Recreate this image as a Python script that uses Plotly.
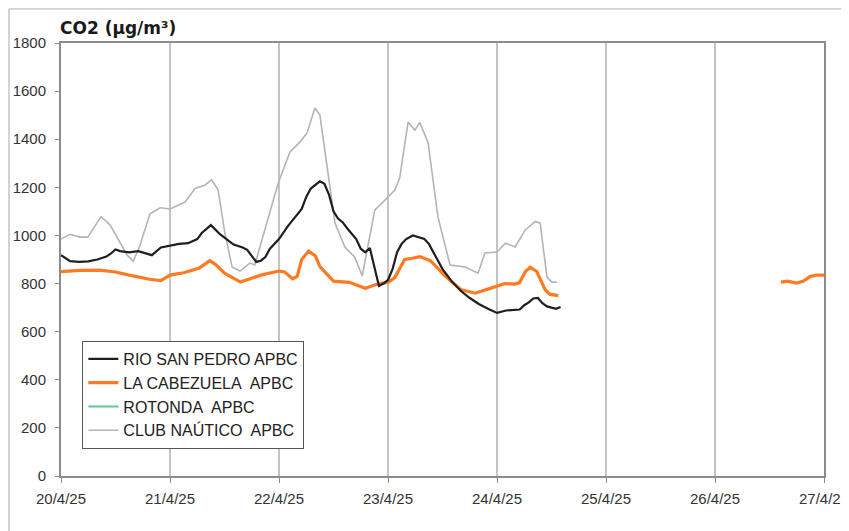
import plotly.graph_objects as go

# ---------------- data ----------------
rio_times = ["2025-04-20 00:00", "2025-04-20 02:00", "2025-04-20 04:00", "2025-04-20 06:00", "2025-04-20 08:00",
             "2025-04-20 10:00", "2025-04-20 11:00", "2025-04-20 12:00", "2025-04-20 13:00", "2025-04-20 15:00",
             "2025-04-20 17:00", "2025-04-20 19:00", "2025-04-20 20:00", "2025-04-20 22:00", "2025-04-21 00:00",
             "2025-04-21 02:00", "2025-04-21 04:00", "2025-04-21 05:00", "2025-04-21 06:00", "2025-04-21 07:00",
             "2025-04-21 09:00", "2025-04-21 11:00", "2025-04-21 12:00", "2025-04-21 14:00", "2025-04-21 16:00",
             "2025-04-21 17:00", "2025-04-21 18:00", "2025-04-21 19:00", "2025-04-21 20:00", "2025-04-21 21:00",
             "2025-04-21 22:00", "2025-04-22 00:00", "2025-04-22 02:00", "2025-04-22 04:00", "2025-04-22 05:00",
             "2025-04-22 06:00", "2025-04-22 07:00", "2025-04-22 09:00", "2025-04-22 10:00", "2025-04-22 11:00",
             "2025-04-22 12:00", "2025-04-22 13:00", "2025-04-22 14:00", "2025-04-22 15:00", "2025-04-22 17:00",
             "2025-04-22 18:00", "2025-04-22 19:00", "2025-04-22 20:00", "2025-04-22 21:00", "2025-04-22 22:00",
             "2025-04-22 23:00", "2025-04-23 00:00", "2025-04-23 01:00", "2025-04-23 02:00", "2025-04-23 03:00",
             "2025-04-23 04:00", "2025-04-23 05:30", "2025-04-23 07:00", "2025-04-23 08:00", "2025-04-23 09:00",
             "2025-04-23 10:00", "2025-04-23 12:00", "2025-04-23 14:00", "2025-04-23 16:00", "2025-04-23 18:00",
             "2025-04-23 20:00", "2025-04-23 22:00", "2025-04-24 00:00", "2025-04-24 02:00", "2025-04-24 04:00",
             "2025-04-24 05:00", "2025-04-24 06:00", "2025-04-24 07:00", "2025-04-24 08:00", "2025-04-24 09:00",
             "2025-04-24 10:00", "2025-04-24 11:00", "2025-04-24 12:00", "2025-04-24 13:00", "2025-04-24 14:00"]
rio_values = [918, 893, 890, 892, 900,
              912, 925, 942, 935, 930,
              935, 925, 918, 950, 958,
              965, 968, 975, 985, 1010,
              1043, 1005, 990, 962, 950,
              940, 915, 890, 895, 910,
              945, 985, 1040, 1085, 1110,
              1160, 1195, 1225, 1215, 1170,
              1100, 1070, 1055, 1030, 985,
              945, 930, 948, 870, 790,
              800, 815, 860, 930, 965,
              985, 1000, 990, 985, 965,
              930, 860, 810, 770, 740,
              715, 695, 678, 688, 690,
              692, 710, 722, 738, 740,
              718, 705, 700, 695, 703]

cab_times = ["2025-04-20 00:00", "2025-04-20 04:00", "2025-04-20 08:30", "2025-04-20 12:00", "2025-04-20 15:00",
             "2025-04-20 19:30", "2025-04-20 22:00", "2025-04-21 00:00", "2025-04-21 03:00", "2025-04-21 06:30",
             "2025-04-21 08:45", "2025-04-21 10:00", "2025-04-21 12:00", "2025-04-21 15:30", "2025-04-21 20:00",
             "2025-04-22 00:00", "2025-04-22 01:15", "2025-04-22 03:00", "2025-04-22 04:00", "2025-04-22 05:00",
             "2025-04-22 06:30", "2025-04-22 08:00", "2025-04-22 09:00", "2025-04-22 12:00", "2025-04-22 15:30",
             "2025-04-22 19:00", "2025-04-22 22:00", "2025-04-23 00:00", "2025-04-23 01:30", "2025-04-23 03:40",
             "2025-04-23 05:20", "2025-04-23 07:00", "2025-04-23 09:20", "2025-04-23 12:40", "2025-04-23 16:00",
             "2025-04-23 19:10", "2025-04-23 22:30", "2025-04-24 01:45", "2025-04-24 04:00", "2025-04-24 05:00",
             "2025-04-24 06:15", "2025-04-24 07:20", "2025-04-24 08:45", "2025-04-24 10:35", "2025-04-24 11:40",
             "2025-04-24 13:30",
             "2025-04-25 12:00",
             "2025-04-26 14:30", "2025-04-26 16:00", "2025-04-26 18:00", "2025-04-26 19:30", "2025-04-26 21:00",
             "2025-04-26 22:30", "2025-04-27 00:00"]
cab_values = [850, 855, 856, 848, 835,
              818, 812, 835, 845, 865,
              895, 880, 843, 806, 835,
              852, 848, 820, 830, 900,
              935, 915, 870, 810, 805,
              780, 800, 805, 825, 900,
              905, 912, 895, 830, 775,
              760, 780, 800, 798, 805,
              850, 868, 850, 775, 755,
              750,
              None,
              806, 810, 802, 810, 830,
              835, 835]

rot_times = []
rot_values = []

club_times = ["2025-04-20 00:00", "2025-04-20 02:00", "2025-04-20 04:10", "2025-04-20 05:55", "2025-04-20 07:30",
              "2025-04-20 08:50", "2025-04-20 10:50", "2025-04-20 13:00", "2025-04-20 14:30", "2025-04-20 15:55",
              "2025-04-20 17:25", "2025-04-20 19:35", "2025-04-20 21:50", "2025-04-21 00:00", "2025-04-21 03:20",
              "2025-04-21 05:30", "2025-04-21 07:40", "2025-04-21 09:10", "2025-04-21 10:35", "2025-04-21 12:05",
              "2025-04-21 13:40", "2025-04-21 15:25", "2025-04-21 17:35", "2025-04-21 18:40", "2025-04-21 20:55",
              "2025-04-21 23:50", "2025-04-22 02:25", "2025-04-22 04:35", "2025-04-22 06:10", "2025-04-22 07:55",
              "2025-04-22 09:00", "2025-04-22 10:50", "2025-04-22 12:20", "2025-04-22 14:30", "2025-04-22 16:40",
              "2025-04-22 18:20", "2025-04-22 19:35", "2025-04-22 21:05", "2025-04-22 23:20", "2025-04-23 01:30",
              "2025-04-23 02:35", "2025-04-23 04:25", "2025-04-23 05:55", "2025-04-23 07:00", "2025-04-23 08:50",
              "2025-04-23 11:00", "2025-04-23 13:40", "2025-04-23 17:00", "2025-04-23 19:50", "2025-04-23 21:20",
              "2025-04-24 00:00", "2025-04-24 01:50", "2025-04-24 04:00", "2025-04-24 06:10", "2025-04-24 08:25",
              "2025-04-24 09:30", "2025-04-24 11:00", "2025-04-24 12:05", "2025-04-24 13:10"]
club_values = [985, 1005, 993, 993, 1040,
               1078, 1043, 968, 920, 892,
               960, 1090, 1115, 1110, 1139,
               1195, 1209, 1232, 1190, 1010,
               869, 852, 885, 877, 1022,
               1218, 1347, 1388, 1426, 1530,
               1500, 1243, 1051, 952, 910,
               832, 952, 1105, 1147, 1189,
               1240, 1471, 1438, 1470, 1384,
               1076, 877, 869, 843, 927,
               931, 968, 952, 1022, 1058,
               1051, 827, 806, 806]

series_names = ["RIO SAN PEDRO APBC", "LA CABEZUELA\u00a0 APBC", "ROTONDA\u00a0 APBC", "CLUB NAÚTICO\u00a0 APBC"]
series_colors = ["#1e1e1e", "#ff7a22", "#5cc98b", "#b4b4b4"]
series_widths = [2.2, 3.2, 2, 1.6]

x_range = ["2025-04-20", "2025-04-27"]
y_range = [0, 1800]
y_step = 200
title_text = "CO2 (µg/m³)"

# ---------------- figure ----------------
fig = go.Figure()
all_series = [(rio_times, rio_values), (cab_times, cab_values), (rot_times, rot_values), (club_times, club_values)]
ranks = [1, 2, 3, 4]
for (t, v), name, col, w, rk in zip(all_series, series_names, series_colors, series_widths, ranks):
    if not t:
        t, v = [None], [None]
    fig.add_trace(go.Scatter(x=t, y=v, mode="lines", name=name, legendrank=rk,
                             line=dict(color=col, width=w), connectgaps=False))

# draw gray at back
fig.data = (fig.data[3], fig.data[1], fig.data[0], fig.data[2])

# page body has an 8px margin; plot area in window spans x 61..824, y 43..476
fig.update_layout(
    width=849, height=531,
    margin=dict(l=53, r=33, t=35, b=63, autoexpand=False),
    paper_bgcolor="white", plot_bgcolor="white",
    font=dict(family="Liberation Sans, Arial, sans-serif", size=15, color="#333333"),
    showlegend=True,
    legend=dict(x=0.028, y=0.312, xanchor="left", yanchor="top",
                bordercolor="#555555", borderwidth=1, bgcolor="white",
                font=dict(size=16, color="#222222"),
                itemwidth=30, tracegroupgap=0, traceorder="normal"),
    xaxis=dict(type="date", range=x_range, dtick=86400000, tick0=x_range[0],
               tickformat="%-d/%-m/%y", showgrid=True, gridcolor="#c4c4c4", gridwidth=1.5,
               showline=True, linecolor="#8c8c8c", linewidth=2, mirror=True,
               ticks="outside", ticklen=5, tickcolor="#8c8c8c", zeroline=False,
               ticklabelstandoff=3, automargin=False),
    yaxis=dict(range=y_range, dtick=y_step, showgrid=False,
               showline=True, linecolor="#8c8c8c", linewidth=2, mirror=True,
               ticks="outside", ticklen=4, tickcolor="#8c8c8c", zeroline=False,
               ticklabelstandoff=6, automargin=False),
)

fig.add_annotation(text="<b>" + title_text + "</b>", xref="paper", yref="paper",
                   x=-0.004, y=1.0, xanchor="left", yanchor="bottom", yshift=3,
                   showarrow=False, font=dict(family="DejaVu Sans, Verdana, sans-serif", size=17, color="#1a1a1a"))

# outer chart border (figure edge)
fig.add_shape(type="line", xref="paper", yref="paper", x0=-0.0682, x1=-0.0682, y0=-0.3, y1=1.079,
              line=dict(color="#d2d2d2", width=2))
fig.add_shape(type="line", xref="paper", yref="paper", x0=-0.0682, x1=1.1, y0=1.079, y1=1.079,
              line=dict(color="#d2d2d2", width=2))

fig.write_html("out.html")
